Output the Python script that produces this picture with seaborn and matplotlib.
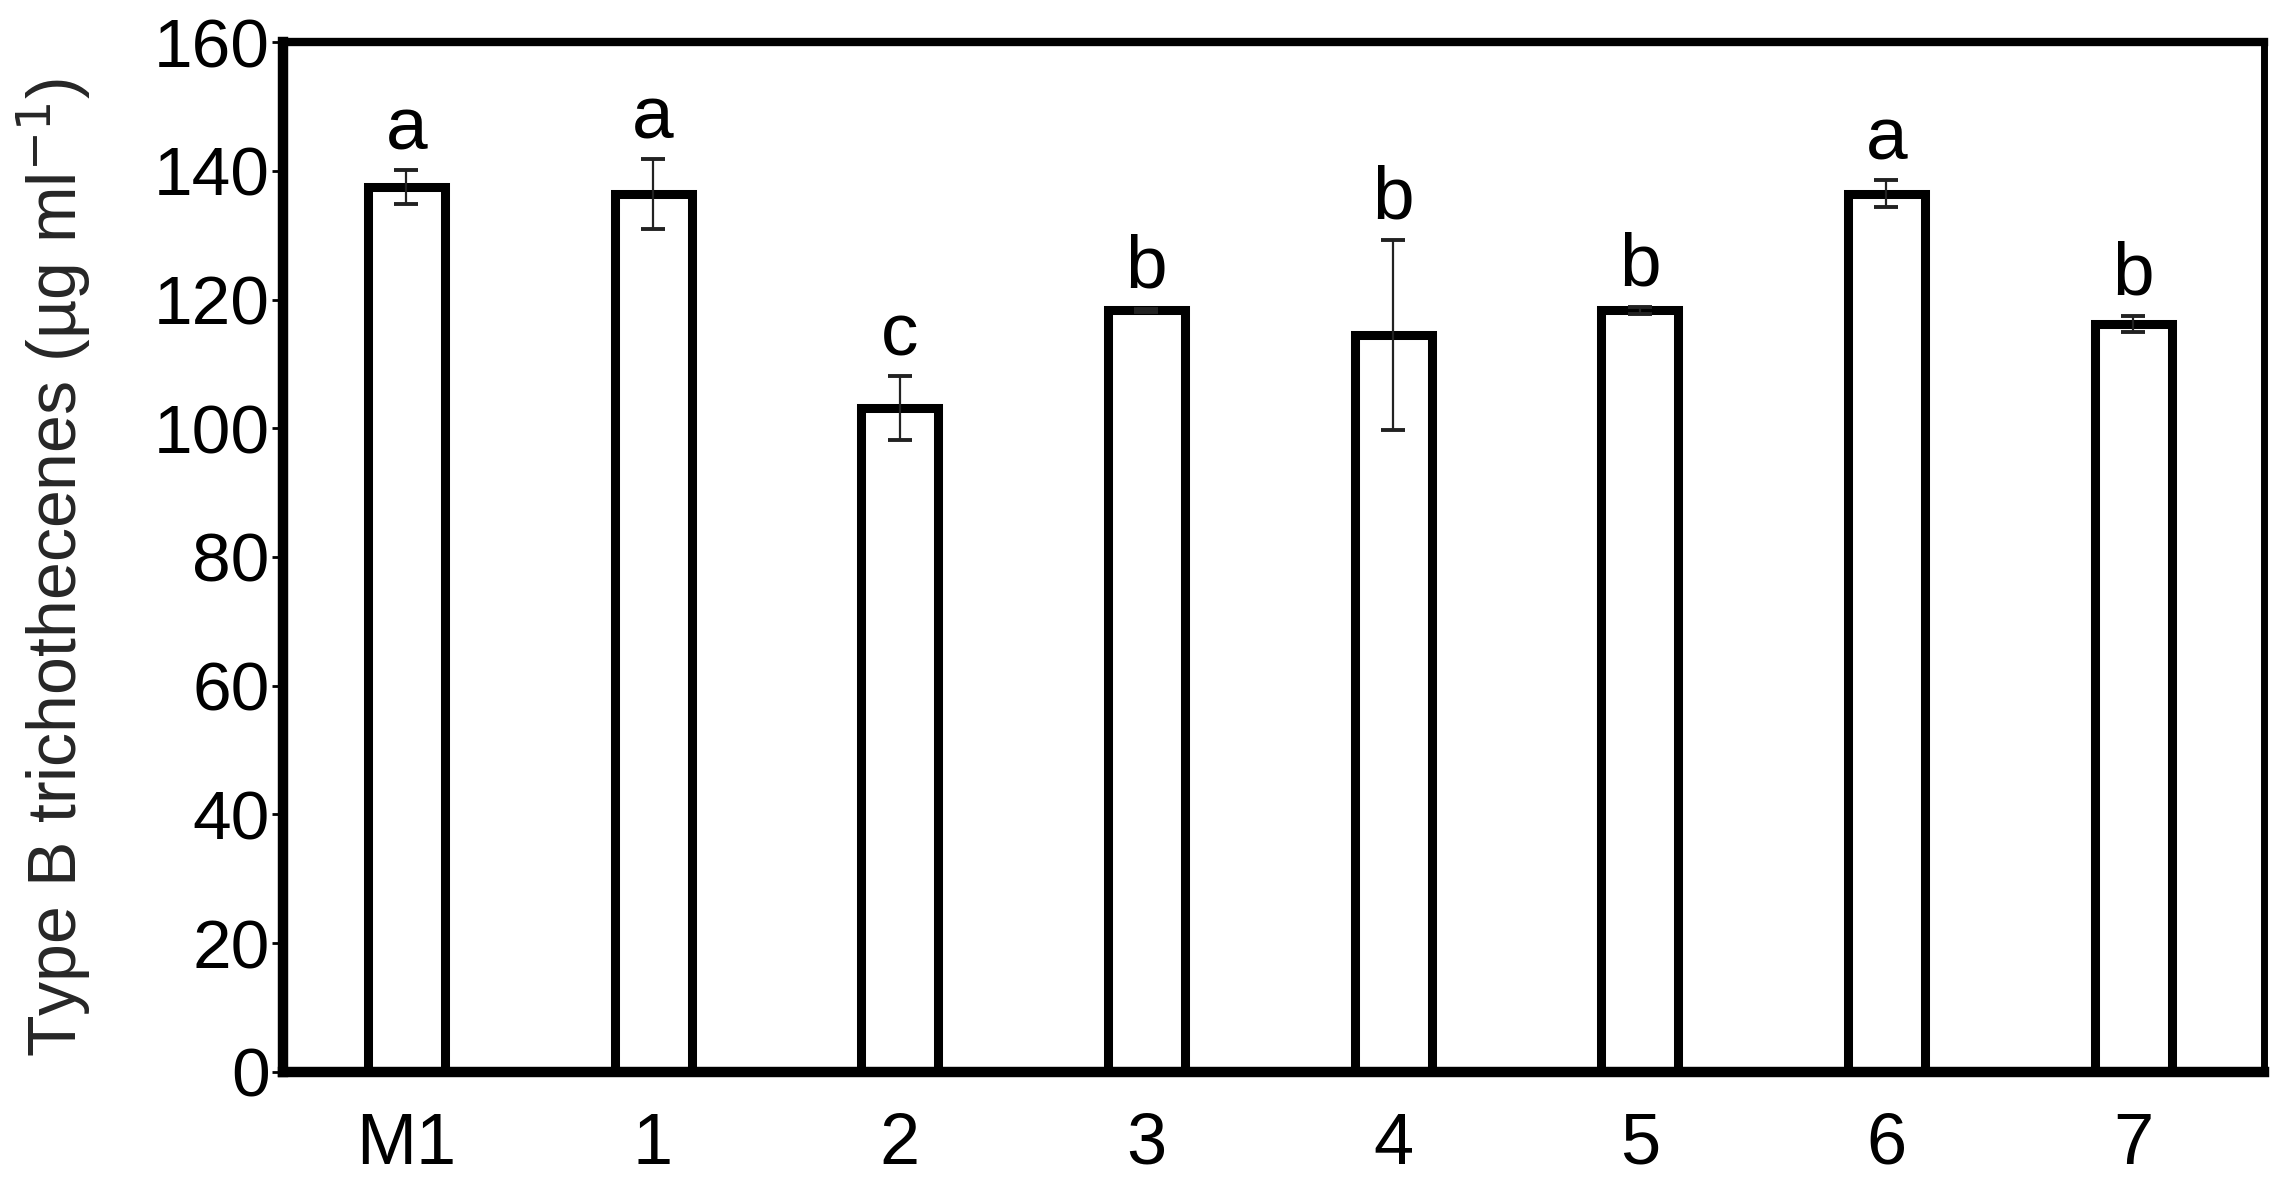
import pandas as pd
import numpy as np
import matplotlib
matplotlib.use('Agg')
import matplotlib.pyplot as plt
import seaborn as sns

# values
strains = ['M1', '1', '2', '3', '4', '5', '6', '7']
means = [137.5, 136.4, 103.1, 118.3, 114.5, 118.3, 136.4, 116.2]
errs = [2.6, 5.4, 5.0, 0.3, 14.8, 0.6, 2.1, 1.3]
letters = ['a', 'a', 'c', 'b', 'b', 'b', 'a', 'b']

df = pd.DataFrame({'strain': strains, 'value': means})

sns.set_style('white')
plt.rcParams['font.family'] = ['Liberation Sans', 'DejaVu Sans']

fig = plt.figure(figsize=(22.73, 11.87), dpi=100)
ax = fig.add_axes([0.1245, 0.0969, 0.8715, 0.8677])

sns.barplot(data=df, x='strain', y='value', order=strains, color='white',
            edgecolor='black', linewidth=6.5, width=0.312, errorbar=None,
            saturation=1, ax=ax, zorder=2)

# error bars
ax.errorbar(x=np.arange(len(strains)), y=means, yerr=errs, fmt='none',
            ecolor='#222222', elinewidth=1.6, capsize=8.3, capthick=2.8, zorder=3)

# significance letters
for i, (m, e, l) in enumerate(zip(means, errs, letters)):
    ax.annotate(l, (i, m + e), xytext=(0, 15), textcoords='offset points',
                ha='center', va='baseline', fontsize=54, color='black')

ax.set_xlim(-0.5, 7.53)
ax.set_ylim(0, 160)
ax.set_yticks(np.arange(0, 161, 20))

ax.set_xlabel('')
ax.set_ylabel('Type B trichothecenes (µg ml$^{-1}$)', fontsize=49, va='center')
ax.yaxis.set_label_coords(-0.1156, 0.49)

ax.tick_params(axis='y', which='both', left=True, direction='out', length=8,
               width=2, pad=1.5, labelsize=50, colors='black')
ax.tick_params(axis='x', bottom=False, pad=25, labelsize=52, colors='black')

for side in ['left', 'bottom']:
    ax.spines[side].set_linewidth(7.5)
ax.spines['top'].set_linewidth(6)
ax.spines['right'].set_linewidth(5)
for s in ax.spines.values():
    s.set_color('black')
    s.set_zorder(4)

fig.savefig('out.png', dpi=100)
